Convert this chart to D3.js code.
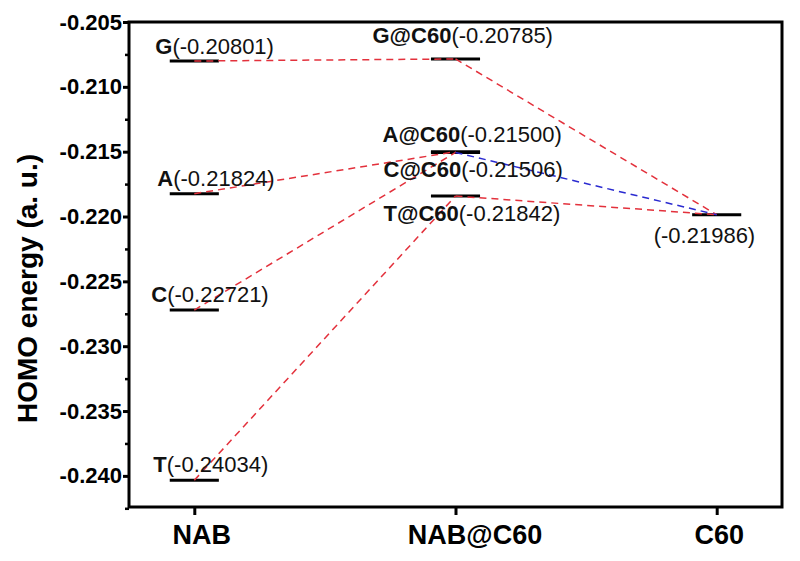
<!DOCTYPE html>
<html>
<head>
<meta charset="utf-8">
<script src="https://cdn.jsdelivr.net/npm/d3@7"></script>
<style>
  html, body { margin: 0; padding: 0; background: #fff; }
  svg { display: block; font-family: "Liberation Sans", Arial, sans-serif; }
</style>
</head>
<body>
<svg id="chart" width="800" height="561"></svg>
<script>
// ---- data ----
const categories = ["NAB", "NAB@C60", "C60"];
const bases = ["G", "A", "C", "T"];
const nabValues = [-0.20801, -0.21824, -0.22721, -0.24034];
const nabC60Values = [-0.20785, -0.21500, -0.21506, -0.21842];
const c60Values = [-0.21986];
const yTickValues = [-0.205, -0.210, -0.215, -0.220, -0.225, -0.230, -0.235, -0.240];
// connections: [fromCat, fromIdx, toCat, toIdx, kind]
const links = [
  [0, 0, 1, 0, "red"],
  [0, 1, 1, 1, "red"],
  [0, 2, 1, 2, "red"],
  [0, 3, 1, 3, "red"],
  [1, 0, 2, 0, "red"],
  [1, 2, 2, 0, "blue"],
  [1, 3, 2, 0, "red"]
];

// ---- layout ----
const m = { left: 129, top: 22, right: 782, bottom: 507 };
const svg = d3.select("#chart");

const x = d3.scaleLinear().domain([0.75, 3.25]).range([m.left, m.right]);
const y = d3.scaleLinear().domain([-0.2424, -0.205]).range([m.bottom, m.top]);
const barHalf = 0.094; // in x-units
const colors = { red: "#e3313c", blue: "#2a2ad0" };

const levels = [];
nabValues.forEach((v, i) => levels.push({ cat: 0, idx: i, v, bold: bases[i], text: "(" + v.toFixed(5) + ")" }));
nabC60Values.forEach((v, i) => levels.push({ cat: 1, idx: i, v, bold: bases[i] + "@C60", text: "(" + v.toFixed(5) + ")" }));
c60Values.forEach((v, i) => levels.push({ cat: 2, idx: i, v, bold: "", text: "(" + v.toFixed(5) + ")" }));
const valueOf = (c, i) => [nabValues, nabC60Values, c60Values][c][i];

// label offsets relative to level centre (px)
const labelOffsets = {
  "0-0": [-39, -7], "0-1": [-37, -8], "0-2": [-43, -8], "0-3": [-41, -8],
  "1-0": [-83, -16], "1-1": [-73, -10], "1-2": [-72, 25], "1-3": [-72, 25],
  "2-0": [-63, 28]
};

// ---- frame ----
svg.append("rect")
  .attr("x", m.left).attr("y", m.top)
  .attr("width", m.right - m.left).attr("height", m.bottom - m.top)
  .attr("fill", "none").attr("stroke", "#000").attr("stroke-width", 3);

// ---- y axis ----
const yAxis = d3.axisLeft(y).tickValues(yTickValues).tickFormat(d => d.toFixed(3)).tickSize(6).tickPadding(1);
const gy = svg.append("g").attr("transform", `translate(${m.left},0)`).call(yAxis);
gy.select(".domain").remove();
gy.selectAll(".tick line").attr("stroke-width", 3);
gy.selectAll(".tick text").attr("font-size", 22).attr("font-weight", "bold").attr("fill", "#000")
  .attr("font-family", "Liberation Sans, Arial, sans-serif");
// minor ticks
const minor = yTickValues.map(v => v - 0.0025);
const gyMinor = svg.append("g").attr("transform", `translate(${m.left},0)`)
  .call(d3.axisLeft(y).tickValues(minor).tickSize(4).tickFormat(""));
gyMinor.select(".domain").remove();
gyMinor.selectAll(".tick line").attr("stroke-width", 2.5);

// ---- x axis ----
const catLabelDx = [7, 19, 2];
const xAxis = d3.axisBottom(x).tickValues([1, 2, 3]).tickFormat(d => categories[d - 1]).tickSize(8).tickPadding(10);
const gx = svg.append("g").attr("transform", `translate(0,${m.bottom})`).call(xAxis);
gx.select(".domain").remove();
gx.selectAll(".tick line").attr("stroke-width", 3);
gx.selectAll(".tick text").attr("font-size", 27).attr("font-weight", "bold").attr("fill", "#000")
  .attr("font-family", "Liberation Sans, Arial, sans-serif")
  .attr("dx", (d, i) => catLabelDx[i]);

// ---- y title ----
svg.append("text")
  .attr("transform", `translate(37,${(m.top + m.bottom) / 2 + 24}) rotate(-90)`)
  .attr("text-anchor", "middle")
  .attr("font-size", 28).attr("font-weight", "bold")
  .text("HOMO energy (a. u.)");

// ---- level bars ----
svg.append("g").selectAll("line").data(levels).join("line")
  .attr("x1", d => x(d.cat + 1 - barHalf)).attr("x2", d => x(d.cat + 1 + barHalf))
  .attr("y1", d => y(d.v)).attr("y2", d => y(d.v))
  .attr("stroke", "#000").attr("stroke-width", 3);

// ---- connection lines ----
svg.append("g").selectAll("line").data(links).join("line")
  .attr("x1", d => x(d[0] + 1)).attr("y1", d => y(valueOf(d[0], d[1])))
  .attr("x2", d => x(d[2] + 1)).attr("y2", d => y(valueOf(d[2], d[3])))
  .attr("stroke", d => colors[d[4]]).attr("stroke-width", 1.5)
  .attr("stroke-dasharray", "7,5");

// ---- labels ----
const lab = svg.append("g").selectAll("text").data(levels).join("text")
  .attr("x", d => x(d.cat + 1) + labelOffsets[d.cat + "-" + d.idx][0])
  .attr("y", d => y(d.v) + labelOffsets[d.cat + "-" + d.idx][1])
  .attr("font-size", 22).attr("fill", "#111");
lab.append("tspan").attr("font-weight", "bold").text(d => d.bold);
lab.append("tspan").text(d => d.text);
</script>
</body>
</html>
